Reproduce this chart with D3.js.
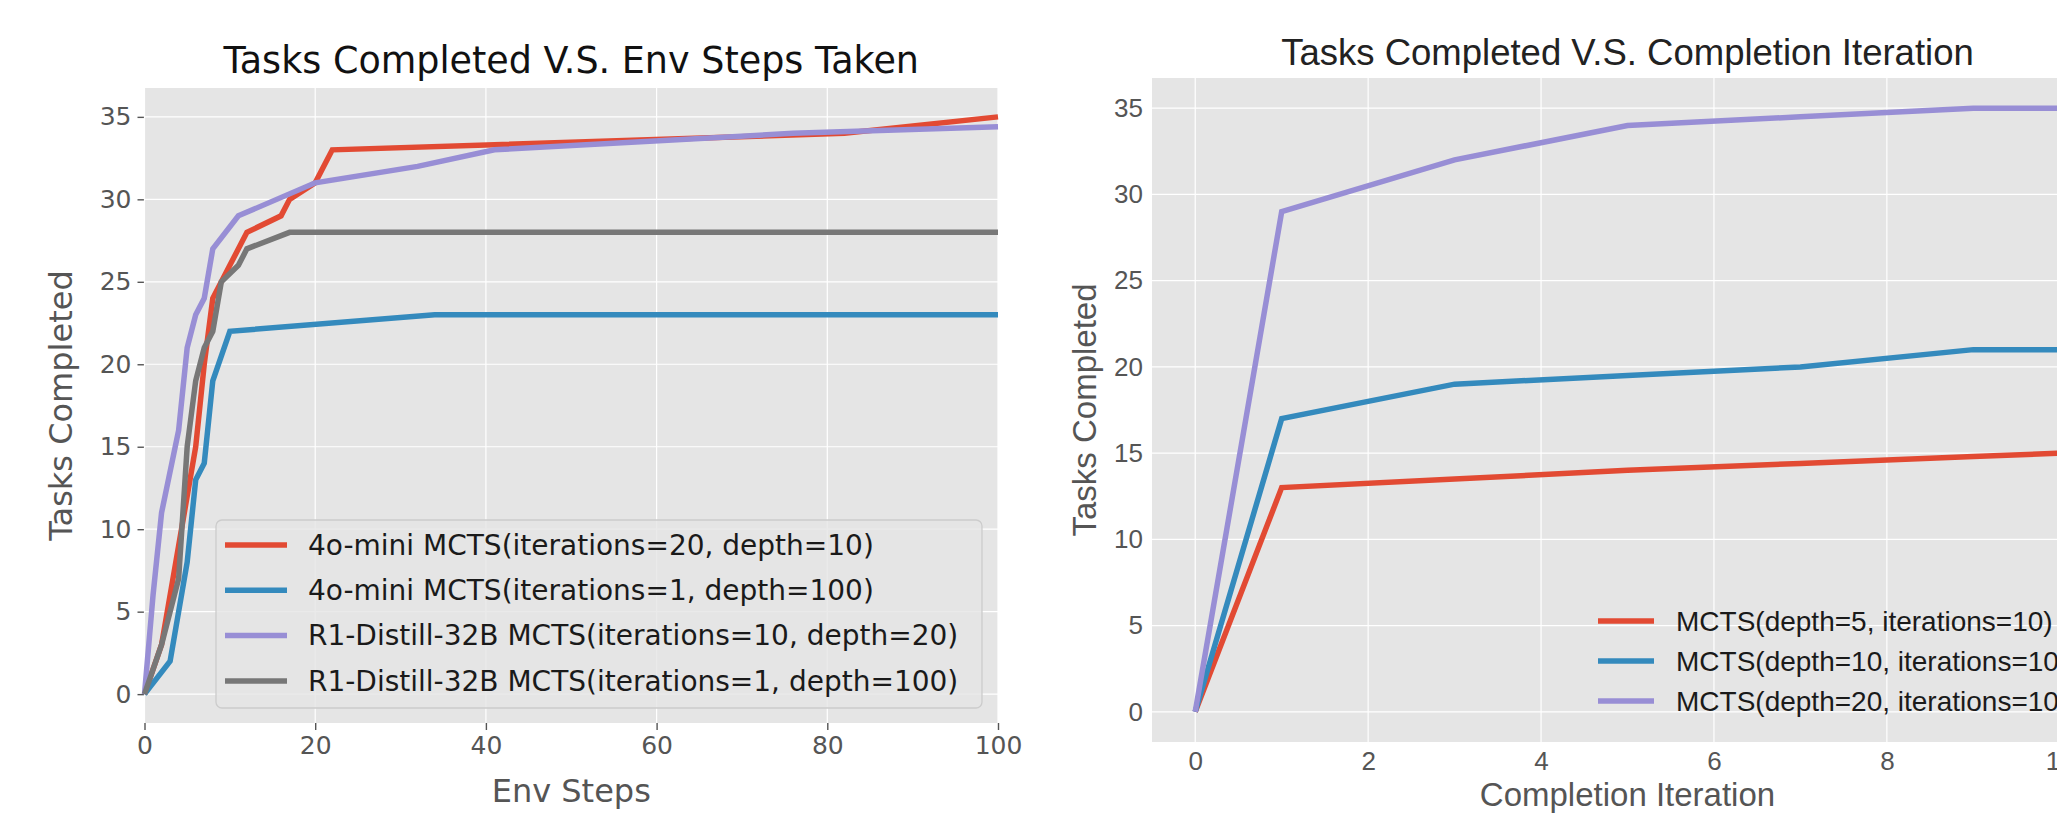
<!DOCTYPE html>
<html>
<head>
<meta charset="utf-8">
<script src="https://cdn.jsdelivr.net/npm/d3@7"></script>
<style>
body { margin: 0; background: #fff; }
svg { display: block; }
</style>
</head>
<body>
<svg id="chart" width="2057" height="814"></svg>
<script>
var leftNames = ["4o-mini MCTS(iterations=20, depth=10)", "4o-mini MCTS(iterations=1, depth=100)", "R1-Distill-32B MCTS(iterations=10, depth=20)", "R1-Distill-32B MCTS(iterations=1, depth=100)"]
var miniIter20 = [[0,0],[2,3],[4,9],[6,15],[7,20],[8,24],[10,26],[12,28],[16,29],[17,30],[20,31],[22,33],[82,34],[100,35]]
var miniIter1 = [[0,0],[3,2],[5,8],[6,13],[7,14],[8,19],[10,22],[34,23],[100,23]]
var r1Iter10 = [[0,0],[1,6],[2,11],[4,16],[5,21],[6,23],[7,24],[8,27],[11,29],[20,31],[32,32],[41,33],[76,34],[100,34.4]]
var r1Iter1 = [[0,0],[2,3],[4,7],[5,15],[6,19],[7,21],[8,22],[9,25],[11,26],[12,27],[17,28],[100,28]]
var leftXTicks = [0, 20, 40, 60, 80, 100]

var rightNames = ["MCTS(depth=5, iterations=10)", "MCTS(depth=10, iterations=10)", "MCTS(depth=20, iterations=10)"]
var completionIters = [0, 1, 3, 5, 7, 9, 10]
var depth5 = [0, 13, 13.5, 14, 14.4, 14.8, 15]
var depth10 = [0, 17, 19, 19.5, 20, 21, 21]
var depth20 = [0, 29, 32, 34, 34.5, 35, 35]
var rightXTicks = [0, 2, 4, 6, 8, 10]

var yTicks = [0, 5, 10, 15, 20, 25, 30, 35]
var colors = ["#E24A33", "#348ABD", "#988ED5", "#777777"]

var svg = d3.select("#chart")

function drawPanel(p) {
    var x = d3.scaleLinear().domain(p.xDomain).range([p.left, p.right])
    var y = d3.scaleLinear().domain([-1.75, 36.75]).range([p.bottom, p.top])
    var g = svg.append('g').attr('font-family', p.font)

    g.append('rect')
        .attr('x', p.left).attr('y', p.top)
        .attr('width', p.right - p.left).attr('height', p.bottom - p.top)
        .attr('fill', '#E5E5E5')

    var tickLen = p.tickMarks ? 7 : 0

    var xAxis = g.append('g')
        .attr('transform', 'translate(0,' + p.bottom + ')')
        .call(d3.axisBottom(x).tickValues(p.xTicks).tickSize(tickLen).tickPadding(p.xPad))
    var yAxis = g.append('g')
        .attr('transform', 'translate(' + p.left + ',0)')
        .call(d3.axisLeft(y).tickValues(yTicks).tickSize(tickLen).tickPadding(p.yPad))
    ;[xAxis, yAxis].forEach(function(a) {
        a.select('.domain').remove()
        a.selectAll('.tick line').attr('stroke', '#555555').attr('stroke-width', 1.4)
        a.selectAll('.tick text').attr('fill', '#555555').attr('font-size', p.tickSize).attr('font-family', p.font)
    })

    g.append('g').selectAll('line').data(p.xTicks).enter().append('line')
        .attr('x1', function(d) { return x(d) }).attr('x2', function(d) { return x(d) })
        .attr('y1', p.top).attr('y2', p.bottom)
        .attr('stroke', '#ffffff').attr('stroke-width', 1.2)
    g.append('g').selectAll('line').data(yTicks).enter().append('line')
        .attr('y1', function(d) { return y(d) }).attr('y2', function(d) { return y(d) })
        .attr('x1', p.left).attr('x2', p.right)
        .attr('stroke', '#ffffff').attr('stroke-width', 1.2)

    var line = d3.line().x(function(d) { return x(d[0]) }).y(function(d) { return y(d[1]) })
    g.append('g').selectAll('path').data(p.series).enter().append('path')
        .attr('d', line)
        .attr('fill', 'none')
        .attr('stroke', function(d, i) { return colors[i] })
        .attr('stroke-width', 5.5)
        .attr('stroke-linejoin', 'miter')

    g.append('text')
        .attr('x', (p.left + p.right) / 2).attr('y', p.titleY)
        .attr('text-anchor', 'middle')
        .attr('font-size', p.titleSize)
        .attr('fill', p.titleColor)
        .text(p.title)
    g.append('text')
        .attr('x', (p.left + p.right) / 2).attr('y', p.xLabelY)
        .attr('text-anchor', 'middle')
        .attr('font-size', p.labelSize)
        .attr('fill', '#555555')
        .text(p.xLabel)
    g.append('text')
        .attr('transform', 'translate(' + p.yLabelX + ',' + (p.top + p.bottom) / 2 + ') rotate(-90)')
        .attr('text-anchor', 'middle')
        .attr('font-size', p.labelSize)
        .attr('fill', '#555555')
        .text('Tasks Completed')

    var lg = g.append('g')
    if (p.legendBox) {
        lg.append('rect')
            .attr('x', p.legendBox[0]).attr('y', p.legendBox[1])
            .attr('width', p.legendBox[2]).attr('height', p.legendBox[3])
            .attr('rx', 6)
            .attr('fill', 'rgba(229,229,229,0.8)')
            .attr('stroke', '#cccccc')
            .attr('stroke-width', 1.3)
    }
    var rows = lg.selectAll('g.row').data(p.names).enter().append('g')
        .attr('transform', function(d, i) { return 'translate(' + p.legendX + ',' + (p.legendY + i * p.legendGap) + ')' })
    rows.append('line')
        .attr('x1', 0).attr('x2', p.handleLen)
        .attr('stroke', function(d, i) { return colors[i] })
        .attr('stroke-width', 5.5)
    rows.append('text')
        .attr('x', p.textOffset).attr('dy', '0.35em')
        .attr('font-size', p.legendSize)
        .attr('fill', '#1a1a1a')
        .text(function(d) { return d })
}

drawPanel({
    font: 'DejaVu Sans',
    left: 144.5, right: 998, top: 88, bottom: 723,
    xDomain: [0, 100], xTicks: leftXTicks, tickMarks: true,
    xPad: 6, yPad: 6, tickSize: 25,
    series: [miniIter20, miniIter1, r1Iter10, r1Iter1],
    title: 'Tasks Completed V.S. Env Steps Taken', titleY: 73, titleSize: 36.5, titleColor: '#111111',
    xLabel: 'Env Steps', xLabelY: 802, yLabelX: 72, labelSize: 32,
    names: leftNames, legendBox: [216, 520, 766, 188],
    legendX: 225, legendY: 545, legendGap: 45.3, handleLen: 62, textOffset: 83, legendSize: 28
})

drawPanel({
    font: 'Liberation Sans',
    left: 1152, right: 2103, top: 78, bottom: 742,
    xDomain: [-0.5, 10.5], xTicks: rightXTicks, tickMarks: false,
    xPad: 10, yPad: 9, tickSize: 26,
    series: [completionIters.map(function(v, i) { return [v, depth5[i]] }),
             completionIters.map(function(v, i) { return [v, depth10[i]] }),
             completionIters.map(function(v, i) { return [v, depth20[i]] })],
    title: 'Tasks Completed V.S. Completion Iteration', titleY: 65, titleSize: 36.5, titleColor: '#222222',
    xLabel: 'Completion Iteration', xLabelY: 806, yLabelX: 1096, labelSize: 33,
    names: rightNames, legendBox: null,
    legendX: 1598, legendY: 621, legendGap: 40, handleLen: 56, textOffset: 78, legendSize: 28
})
</script>
</body>
</html>
